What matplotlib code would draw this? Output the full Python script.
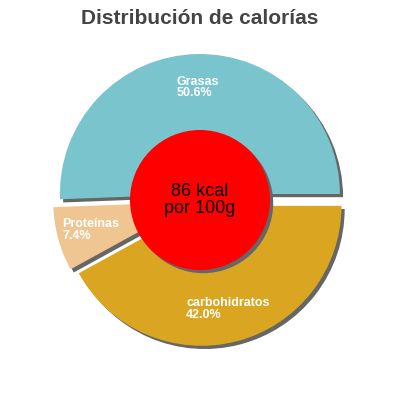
import math

import matplotlib.pyplot as plt
import matplotlib.patheffects as pe
from matplotlib.patches import Circle

plt.rcParams["font.family"] = ["Liberation Sans", "DejaVu Sans"]

labels = ["Grasas", "Proteínas", "carbohidratos"]
values = [50.6, 7.4, 42.0]
colors = ["#7ac4cd", "#efc692", "#daa520"]
explode = [6, 7, 6]
title = "Distribución de calorías"
center_text = "86 kcal\npor 100g"

shadow = [pe.SimplePatchShadow(offset=(2.3, -2.3), shadow_rgbFace="#666666", alpha=1.0), pe.Normal()]

fig = plt.figure(figsize=(4, 4), dpi=100)
ax = fig.add_axes([0, 0, 1, 1])

wedges, _ = ax.pie(values, colors=colors, explode=explode, radius=140, center=(200, 200),
                   startangle=0, counterclock=True,
                   wedgeprops={"linewidth": 0, "path_effects": shadow})

for w, lab, v in zip(wedges, labels, values):
    th = math.radians((w.theta1 + w.theta2) / 2)
    r = 0.76 * w.r
    x = w.center[0] + r * math.cos(th)
    y = w.center[1] + r * math.sin(th)
    ax.text(x, y, f"{lab}\n{v:.1f}%", color="white", fontsize=9, fontweight="bold",
            ha="center", va="center", multialignment="left", linespacing=0.95)

circ = Circle((200, 200), 70, facecolor="#ff0000", edgecolor="none", path_effects=shadow)
ax.add_patch(circ)
ax.text(200, 200, center_text, fontsize=13, color="black", ha="center", va="center", linespacing=1.0)

ax.set_xlim(0, 400)
ax.set_ylim(0, 400)
ax.set_aspect("equal")
ax.axis("off")

fig.text(0.5, 1 - 18 / 400, title, fontsize=15, fontweight="bold", color="#444444", ha="center", va="center")

fig.savefig("out.png", dpi=100)
